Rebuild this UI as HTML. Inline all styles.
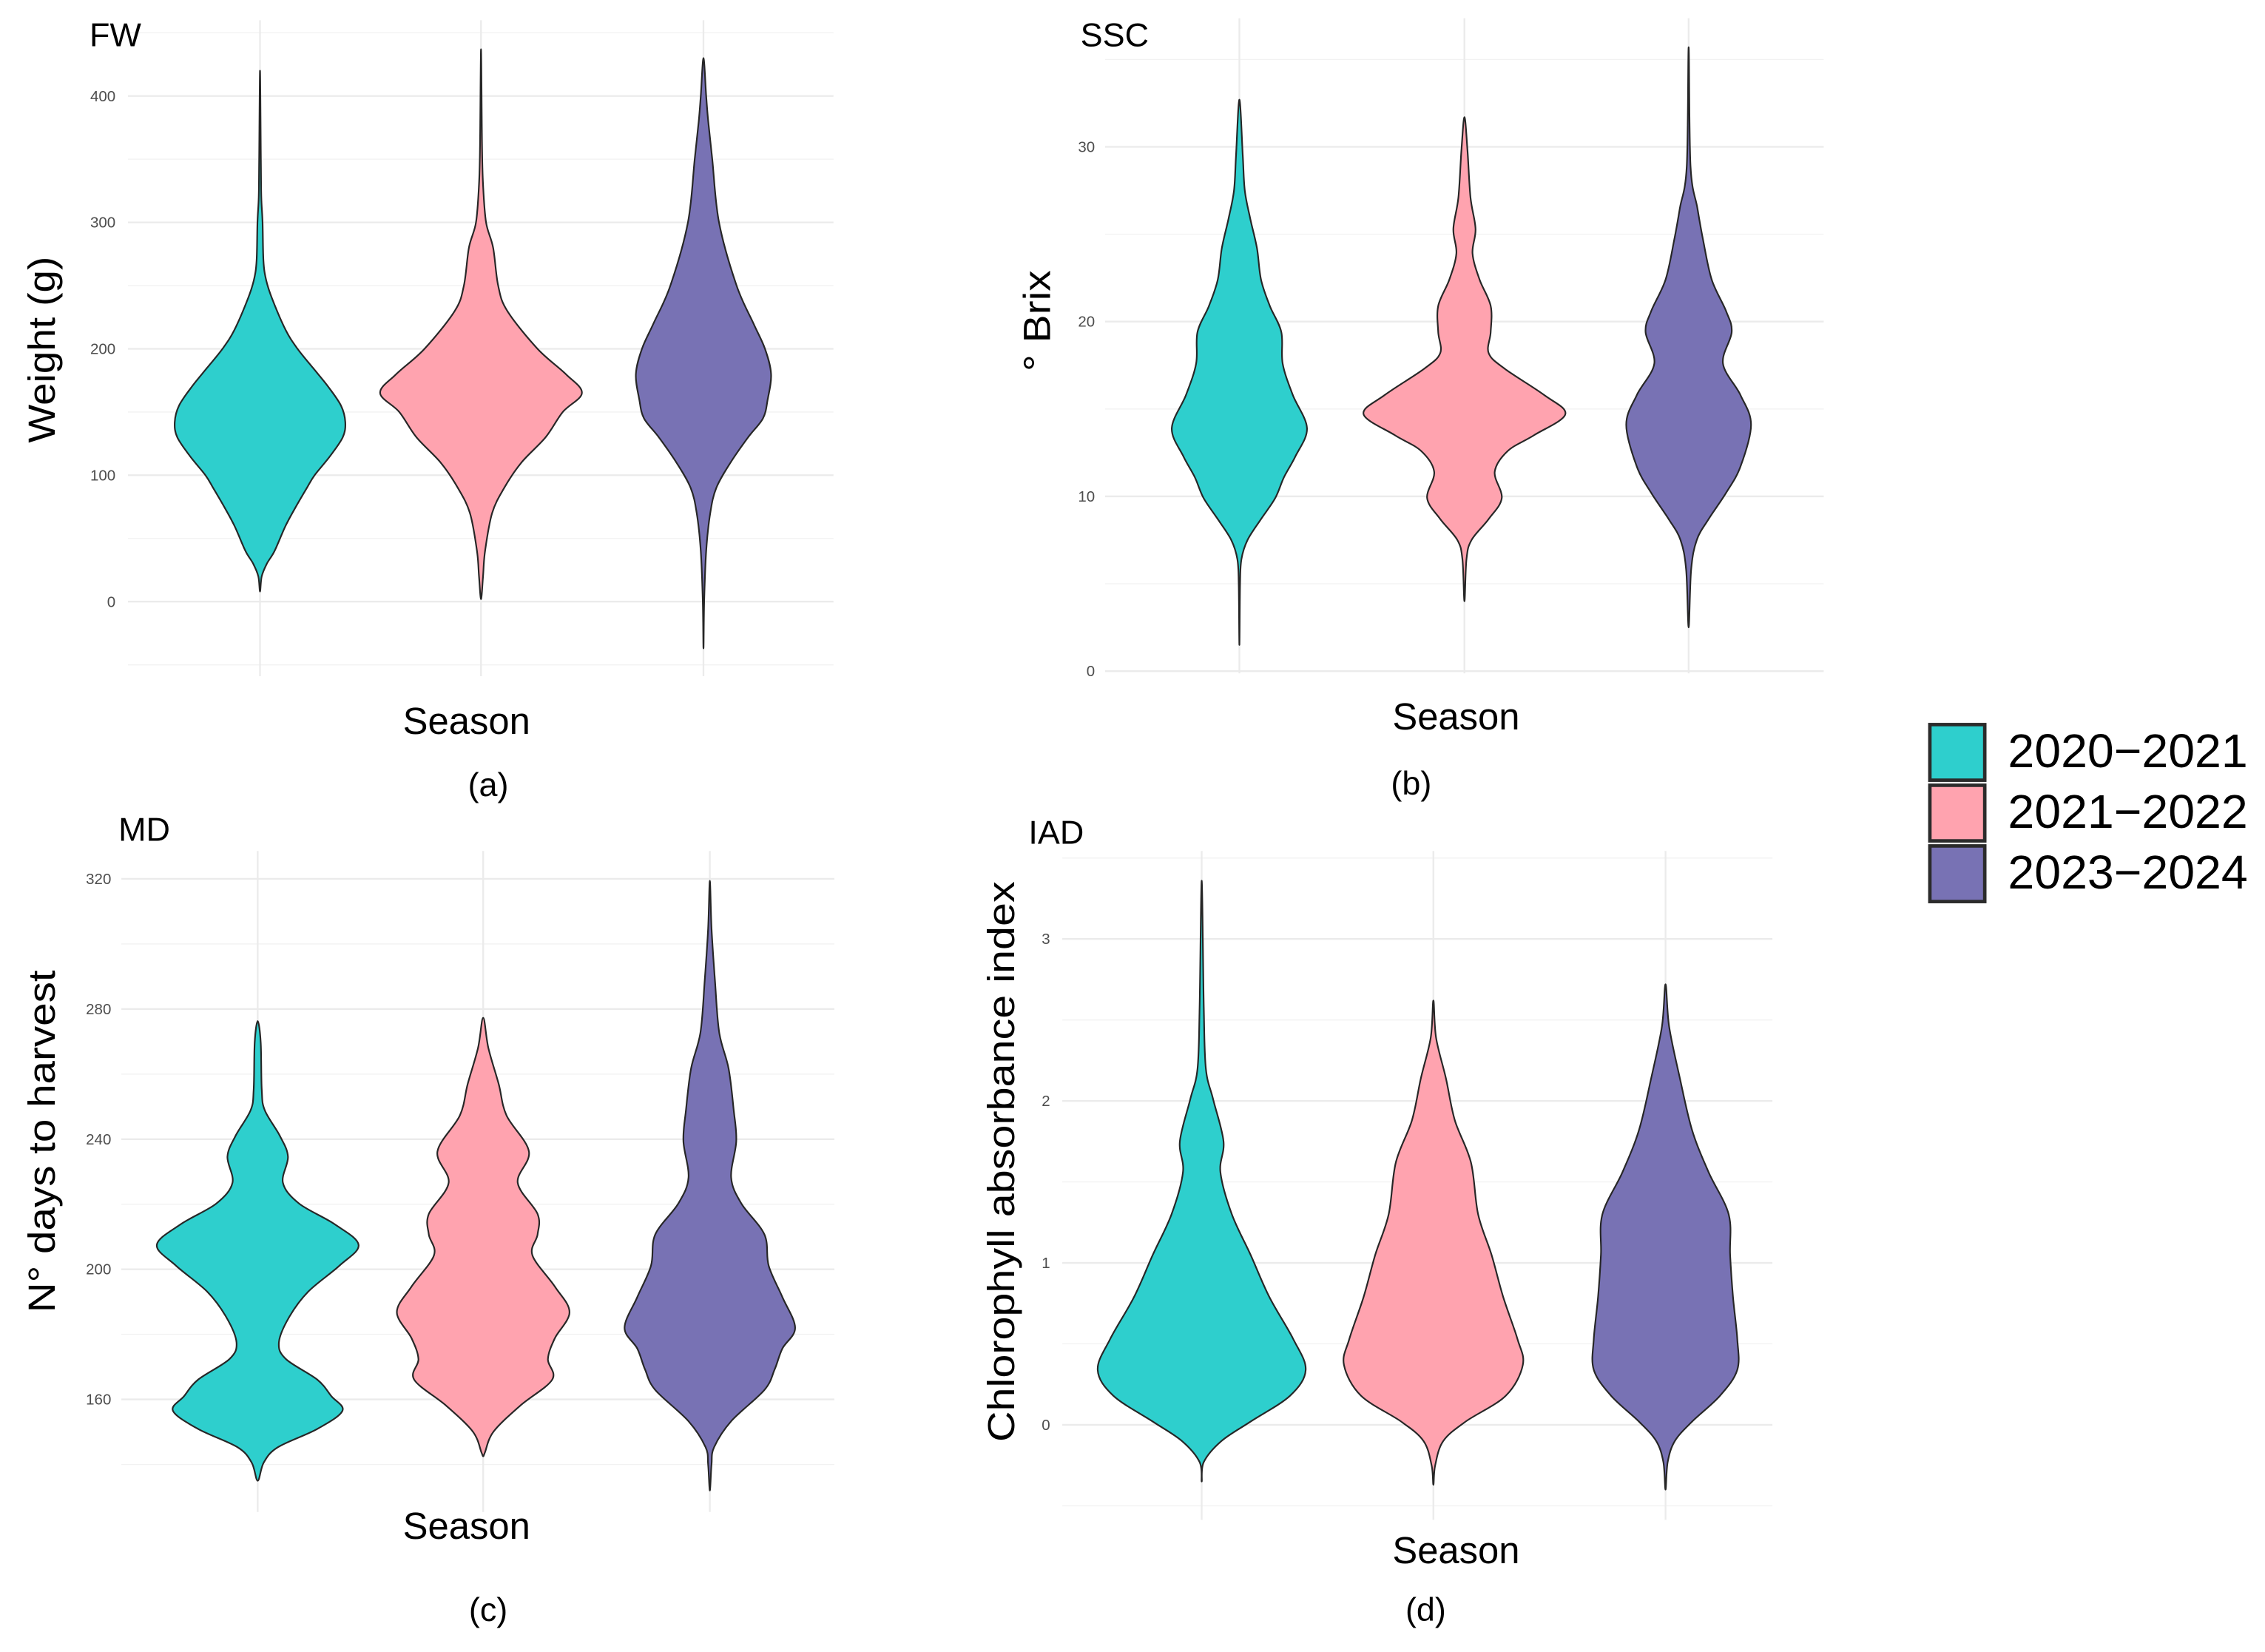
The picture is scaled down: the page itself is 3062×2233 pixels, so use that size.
<!DOCTYPE html>
<html><head><meta charset="utf-8">
<style>
html,body{margin:0;padding:0;background:#fff;}
svg{display:block;}
text{font-family:"Liberation Sans","DejaVu Sans",sans-serif;}
</style></head>
<body>
<svg id="fig" xmlns="http://www.w3.org/2000/svg" width="3062" height="2233" viewBox="0 0 1568 1143.4">
<rect x="0" y="0" width="1568" height="1143.4" fill="#fff"/>
</svg>
<script>
// ---- data ----
const seasons = ["2020-2021","2021-2022","2023-2024"];
const seasonLabels = ["2020\u22122021","2021\u22122022","2023\u22122024"];
// ticks
const fwTicks = [0,100,200,300,400];
const sscTicks = [0,10,20,30];
const mdTicks = [160,200,240,280,320];
const iadTicks = [0,1,2,3];
// peak density (relative width) per season for each panel
const fwPeak = [0.82,0.97,0.65];
const sscPeak = [0.65,0.97,0.60];
const mdPeak = [0.97,0.83,0.82];
const iadPeak = [1.0,0.86,0.69];
// density profiles [value, relative density]
const fwTeal = [[8,0],[20,0.02],[30,0.08],[40,0.17],[60,0.3],[75,0.42],[90,0.55],[100,0.64],[115,0.82],[130,0.97],[142,1],[155,0.95],[170,0.8],[185,0.62],[200,0.44],[215,0.3],[240,0.14],[255,0.07],[270,0.04],[300,0.03],[320,0.015],[350,0.01],[420,0]];
const fwPink = [[2,0],[20,0.02],[40,0.04],[70,0.11],[90,0.23],[110,0.4],[130,0.64],[150,0.81],[165,1],[180,0.84],[200,0.56],[230,0.26],[250,0.17],[280,0.12],[300,0.05],[330,0.02],[360,0.01],[437,0]];
const fwPurple = [[-37,0],[0,0.01],[40,0.04],[70,0.1],[90,0.19],[110,0.4],[130,0.66],[145,0.88],[160,0.95],[180,1],[200,0.91],[220,0.74],[250,0.49],[300,0.23],[350,0.13],[380,0.07],[400,0.04],[430,0]];
const sscTeal = [[1.5,0],[5,0.01],[6.4,0.03],[7.5,0.12],[8.7,0.32],[9.9,0.53],[11.1,0.66],[12.3,0.83],[13.9,1],[15.8,0.79],[17.6,0.64],[19.4,0.62],[20.9,0.45],[22.4,0.32],[24.2,0.26],[25.9,0.16],[27.5,0.08],[29.5,0.05],[32.7,0]];
const sscPink = [[4,0],[6.4,0.02],[7.5,0.07],[8.7,0.24],[9.9,0.37],[11.4,0.3],[12.6,0.43],[13.5,0.69],[14.7,1],[15.8,0.79],[17.3,0.4],[18.2,0.24],[19.4,0.26],[20.9,0.26],[22.4,0.15],[23.9,0.08],[25.3,0.11],[27.1,0.06],[29.8,0.03],[31.7,0]];
const sscPurple = [[2.5,0],[5.8,0.04],[7.5,0.13],[8.7,0.32],[10.2,0.6],[11.7,0.83],[14.1,1],[15.8,0.83],[17.6,0.55],[19.4,0.69],[20.6,0.6],[22.4,0.37],[24.7,0.23],[26.5,0.14],[28.9,0.03],[35.7,0]];
const mdTeal = [[135,0],[140.6,0.06],[145.3,0.2],[150.9,0.59],[156.5,0.84],[161,0.73],[166.1,0.59],[172.4,0.28],[177.5,0.21],[185.2,0.31],[193.1,0.5],[201.1,0.81],[207.5,1],[213.9,0.76],[220.2,0.41],[226.6,0.25],[234.6,0.3],[241,0.22],[248.9,0.07],[255.3,0.04],[269.6,0.03],[276.3,0]];
const mdPink = [[142.5,0],[143.7,0.02],[150.1,0.12],[158.1,0.43],[166.1,0.8],[172.4,0.75],[178.8,0.83],[186.8,1],[194.7,0.83],[204.3,0.57],[210.7,0.63],[217,0.63],[226.6,0.4],[236.2,0.53],[247.3,0.27],[256.9,0.18],[268,0.06],[277.3,0]];
const mdPurple = [[132,0],[140,0.02],[145.3,0.05],[153.3,0.25],[162.9,0.64],[169.2,0.76],[175.6,0.85],[182,1],[191.5,0.85],[201.1,0.69],[210.7,0.64],[220.2,0.37],[228.2,0.25],[239.4,0.31],[248.9,0.28],[261.7,0.22],[272.8,0.11],[288.8,0.06],[304.7,0.02],[319.4,0]];
const iadTeal = [[-0.35,0],[-0.23,0.02],[-0.1,0.19],[0.02,0.47],[0.18,0.85],[0.34,1],[0.53,0.88],[0.79,0.65],[1.05,0.47],[1.3,0.29],[1.56,0.18],[1.75,0.21],[2.01,0.11],[2.2,0.04],[2.58,0.02],[3.36,0]];
const iadPink = [[-0.37,0],[-0.25,0.02],[-0.1,0.11],[0.02,0.36],[0.18,0.81],[0.37,1],[0.53,0.94],[0.79,0.78],[1.05,0.65],[1.3,0.5],[1.62,0.42],[1.88,0.24],[2.14,0.14],[2.39,0.03],[2.62,0]];
const iadPurple = [[-0.4,0],[-0.23,0.03],[-0.1,0.13],[0.02,0.37],[0.18,0.76],[0.34,1],[0.53,1],[0.79,0.94],[1.05,0.9],[1.3,0.88],[1.56,0.6],[1.82,0.37],[2.14,0.2],[2.46,0.05],[2.72,0]];

// ---- layout ----
const colors = ["#2ECFCD","#FFA3AF","#7872B4"];
const NS = "http://www.w3.org/2000/svg";
const svg = document.getElementById("fig");
function mk(tag, attrs, parent){
  const e = document.createElementNS(NS, tag);
  for (const k in attrs) e.setAttribute(k, attrs[k]);
  (parent||svg).appendChild(e);
  return e;
}
const panels = [
  {key:"fw", title:"FW", ylab:"Weight (g)", ylabLen:129, tag:"(a)", ticks:fwTicks, minor:[-50,50,150,250,350,450],
   profiles:[fwTeal,fwPink,fwPurple], peak:fwPeak,
   v0:0, y0:416.4, v1:400, y1:66.4, x0:88.6, x1:577, cx:[180,333,487], vTop:14, vBot:468,
   tickX:80, titleX:62, titleY:32, ylabX:30, ylabY:242, seasonX:323, seasonY:508, tagX:338, tagY:551},
  {key:"ssc", title:"SSC", ylab:"\u00B0 Brix", ylabLen:70, tag:"(b)", ticks:sscTicks, minor:[5,15,25,35],
   profiles:[sscTeal,sscPink,sscPurple], peak:sscPeak,
   v0:0, y0:464.5, v1:30, y1:101.6, x0:765, x1:1262.5, cx:[858,1013.8,1169], vTop:12.6, vBot:466,
   tickX:758, titleX:748, titleY:32, ylabX:719, ylabY:222, seasonX:1008, seasonY:505, tagX:977, tagY:550},
  {key:"md", title:"MD", ylab:"N\u00B0 days to harvest", ylabLen:237, tag:"(c)", ticks:mdTicks, minor:[140,180,220,260,300],
   profiles:[mdTeal,mdPink,mdPurple], peak:mdPeak,
   v0:160, y0:968.6, v1:320, y1:608.3, x0:84, x1:577.6, cx:[178.4,334.5,491.4], vTop:589, vBot:1046.5,
   tickX:77, titleX:82, titleY:582, ylabX:30, ylabY:790, seasonX:323, seasonY:1065, tagX:338, tagY:1122},
  {key:"iad", title:"IAD", ylab:"Chlorophyll absorbance index", ylabLen:388, tag:"(d)", ticks:iadTicks, minor:[-0.5,0.5,1.5,2.5,3.5],
   profiles:[iadTeal,iadPink,iadPurple], peak:iadPeak,
   v0:0, y0:986.2, v1:3, y1:649.9, x0:735.4, x1:1227, cx:[831.9,992.3,1153], vTop:589, vBot:1052,
   tickX:727, titleX:712, titleY:584, ylabX:694, ylabY:804, seasonX:1008, seasonY:1082, tagX:987, tagY:1122}
];
const MAXHW = 72; // px half-width for density 1

function smoothPath(pts){
  const n = pts.length;
  let d = "M"+pts[0][0].toFixed(2)+","+pts[0][1].toFixed(2);
  for (let i=0;i<n;i++){
    const p0=pts[(i-1+n)%n], p1=pts[i], p2=pts[(i+1)%n], p3=pts[(i+2)%n];
    const t=1/6;
    const c1=[p1[0]+(p2[0]-p0[0])*t, p1[1]+(p2[1]-p0[1])*t];
    const c2=[p2[0]-(p3[0]-p1[0])*t, p2[1]-(p3[1]-p1[1])*t];
    d += " C"+c1[0].toFixed(2)+","+c1[1].toFixed(2)+" "+c2[0].toFixed(2)+","+c2[1].toFixed(2)+" "+p2[0].toFixed(2)+","+p2[1].toFixed(2);
  }
  return d+"Z";
}

panels.forEach(p=>{
  const g = mk("g",{});
  
  
  const yS = v => p.y0 + (v - p.v0)*(p.y1 - p.y0)/(p.v1 - p.v0);
  p.minor.forEach(v=>{
    const y=yS(v); if (y<p.vTop-2||y>p.vBot+2) return;
    const l=mk("line",{x1:p.x0,x2:p.x1,y1:y,y2:y,stroke:"#f2f2f2","stroke-width":0.7},g);
    
    
  });
  p.ticks.forEach(v=>{
    const y=yS(v);
    const l=mk("line",{x1:p.x0,x2:p.x1,y1:y,y2:y,stroke:"#ebebeb","stroke-width":1.2},g);
    
    
    const t=mk("text",{x:p.tickX,y:y+3.6,"font-size":10.5,fill:"#4d4d4d","text-anchor":"end"},g);
    t.textContent=v;
    
    
  });
  p.cx.forEach(x=>{
    const l=mk("line",{x1:x,x2:x,y1:p.vTop,y2:p.vBot,stroke:"#ebebeb","stroke-width":1.2},g);
    
    
  });
  p.profiles.forEach((prof,i)=>{
    const cx=p.cx[i], scale=p.peak[i]*MAXHW;
    const right = prof.map(([v,d])=>[cx+d*scale, yS(v)]);
    const left = prof.slice().reverse().map(([v,d])=>[cx-d*scale, yS(v)]);
    const pts = right.concat(left.slice(1,left.length-1));
    const path=mk("path",{d:smoothPath(pts),fill:colors[i],stroke:"#262626","stroke-width":1.1,"stroke-linejoin":"round"},g);
    
    
  });
  const tt=mk("text",{x:p.titleX,y:p.titleY,"font-size":23,fill:"#000"},g);
  tt.textContent=p.title;
  
  
  const yl=mk("text",{x:0,y:0,"font-size":26,fill:"#000","text-anchor":"middle",textLength:p.ylabLen,lengthAdjust:"spacingAndGlyphs",transform:"translate("+p.ylabX+","+p.ylabY+") rotate(-90) translate(0,8)"},g);
  yl.textContent=p.ylab;
  
  
  const xl=mk("text",{x:p.seasonX,y:p.seasonY,"font-size":26,fill:"#000","text-anchor":"middle"},g);
  xl.textContent="Season";
  
  
  const tg=mk("text",{x:p.tagX,y:p.tagY,"font-size":23,fill:"#000","text-anchor":"middle"},g);
  tg.textContent=p.tag;
  
  
});

const lg = mk("g",{});


const legY=[500,542,584];
seasonLabels.forEach((s,i)=>{
  const r=mk("rect",{x:1336,y:legY[i]+1.5,width:38,height:38.5,fill:colors[i],stroke:"#2b2b2b","stroke-width":2.4},lg);
  
  
  const t=mk("text",{x:1390,y:legY[i]+31,"font-size":33,fill:"#000"},lg);
  t.textContent=s;
  
  
});
</script>
</body></html>
